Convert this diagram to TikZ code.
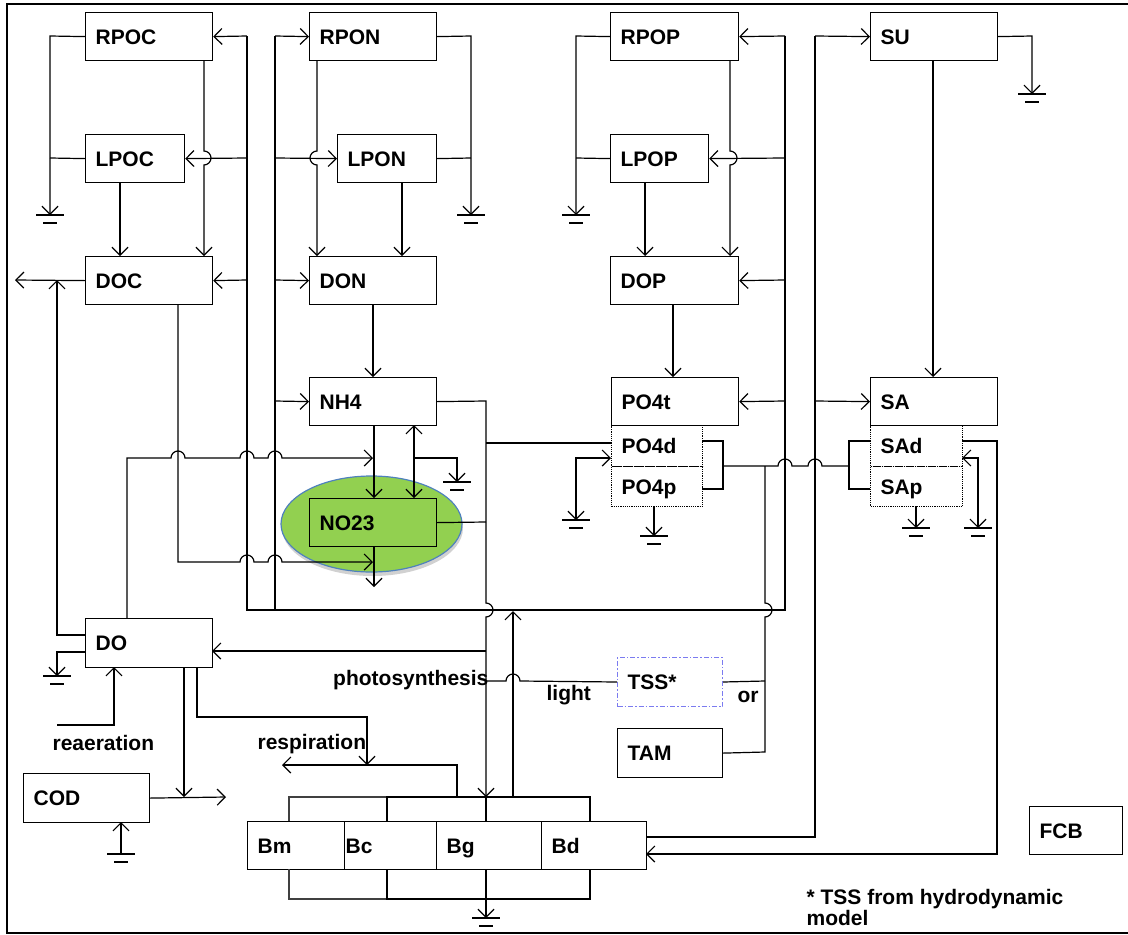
\documentclass[tikz,border=0pt]{standalone}
\usepackage{fontspec}
\setmainfont{Liberation Sans}
\usetikzlibrary{arrows.meta,shapes.geometric,shadows}
\definecolor{nogreen}{HTML}{92D050}
\definecolor{noblue}{HTML}{4F81BD}
\definecolor{tssblue}{HTML}{7B7BF0}
\newcommand\lblfont{\bfseries\fontsize{21}{22}\selectfont}
\begin{document}
\begin{tikzpicture}[x=1pt,y=-1pt, line width=1.2pt,
  >={Straight Barb[length=8pt,width=16pt]},
  box/.style={draw, line width=1.2pt, anchor=north west, inner xsep=10pt, inner ysep=0pt,
    minimum height=48pt, text width=#1, align=left, font=\lblfont, text height=15pt, text depth=0pt},
  dbox/.style={box=#1, densely dotted, line width=1pt, minimum height=41pt},
  lbl/.style={font=\lblfont, inner sep=0pt},
  ground/.pic={\draw[line width=1.2pt] (-14pt,0) -- (14pt,0); \draw[line width=1.2pt] (-7pt,-8pt) -- (7pt,-8pt);}
]
\useasboundingbox (0,0) rectangle (1128,935);
\draw[line width=2.7pt] (1128,4) -- (7,4) -- (7,933) -- (1128,933);

% NO23 ellipse
\node[ellipse, minimum width=181pt, minimum height=96pt, fill=nogreen, draw=noblue, line width=1.2pt,
  drop shadow={shadow xshift=1pt, shadow yshift=-4pt, opacity=0.18, fill=black}] (NO23e) at (371.5,524) {};

% boxes
\node[box=107pt] (RPOC) at (85,12) {RPOC};
\node[box=79pt] (LPOC) at (85,134) {LPOC};
\node[box=107pt] (DOC) at (85,256) {DOC};
\node[box=107pt] (RPON) at (309,12) {RPON};
\node[box=79pt] (LPON) at (337,134) {LPON};
\node[box=107pt] (DON) at (309,256) {DON};
\node[box=107pt] (NH4) at (309,377) {NH4};
\node[box=107pt] (NO23) at (309,498) {NO23};
\node[box=108pt] (RPOP) at (610,12) {RPOP};
\node[box=78pt] (LPOP) at (610,134) {LPOP};
\node[box=108pt] (DOP) at (610,256) {DOP};
\node[box=107pt] (PO4t) at (611,377) {PO4t};
\node[dbox=71pt] (PO4d) at (611,425) {PO4d};
\node[dbox=71pt, minimum height=40pt] (PO4p) at (611,466) {PO4p};
\node[box=107pt] (SU) at (870,12) {SU};
\node[box=107pt] (SA) at (870,377) {SA};
\node[dbox=72pt] (SAd) at (870,425) {SAd};
\node[dbox=72pt, minimum height=40pt] (SAp) at (870,466) {SAp};
\node[box=107pt, minimum height=49pt] (DO) at (85,618) {DO};
\node[box=106pt, minimum height=49pt] (COD) at (23,773) {COD};
\node[box=85pt, minimum height=49pt, draw=tssblue, line width=1pt, dash pattern=on 5pt off 2pt on 1.5pt off 2pt] (TSS) at (617,657) {TSS*};
\node[box=85pt, minimum height=49pt] (TAM) at (617,728) {TAM};
\node[box=77pt] (Bm) at (247,821) {Bm};
\node[box=90pt, inner xsep=1pt] (Bc) at (344,821) {Bc};
\node[box=85pt] (Bg) at (436,821) {Bg};
\node[box=85pt] (Bd) at (541,821) {Bd};
\node[box=73pt] (FCB) at (1029,806) {FCB};

% labels
\node[lbl, anchor=base east] (photo) at (489,685) {photosynthesis};
\node[lbl, anchor=base west] (light) at (546,700) {light};
\node[lbl, anchor=base west] (orl) at (737,702) {or};
\node[lbl, anchor=base west] (reaer) at (52,750) {reaeration};
\node[lbl, anchor=base west] (resp) at (257,749) {respiration};
\node[lbl, anchor=base west] (note1) at (806,904) {* TSS from hydrodynamic};
\node[lbl, anchor=base west] (note2) at (806,925) {model};

% grounds
\foreach \gx/\gy in {50/215, 471/215, 576/215, 1032/94, 457/482, 576/520, 654/536, 916/528, 978/528, 57/676, 121/854, 486/918}
  \pic at (\gx,\gy) {ground};

% distribution buses from algae
\draw (247,36) -- (247,610) -- (785,610) -- (785,36);
\draw (275,36) -- (275,610);
\draw[->] (247,36) -- (RPOC.east);
\draw[->] (247,158) -- (LPOC.east);
\draw[->] (247,280) -- (DOC.east);
\draw[->] (275,36) -- (RPON.west);
\draw[->] (275,158) -- (LPON.west);
\draw[->] (275,280) -- (DON.west);
\draw[->] (275,401) -- (NH4.west);
\draw[->] (785,36) -- (RPOP.east);
\draw[->] (785,158) -- (LPOP.east);
\draw[->] (785,280) -- (DOP.east);
\draw[->] (785,401) -- (PO4t.east);
\draw[->] (513,797) -- (513,611);

% carbon
\draw[->] (RPOC.west) -- (50,36) -- (50,215);
\draw (LPOC.west) -- (50,158);
\draw[->] (204,60) -- (204,151) arc[start angle=90,end angle=-90,radius=7pt] -- (204,256);
\draw[->] (120,182) -- (120,256);
\draw[->] (DOC.west) -- (15,280);
\draw[->] (85,635) -- (57,635) -- (57,280);
\draw[->] (178,304) -- (178,562) -- (240,562) arc[start angle=180,end angle=0,radius=7pt]
  -- (268,562) arc[start angle=180,end angle=0,radius=7pt] -- (373,562);
\draw[->] (127,618) -- (127,458) -- (171,458) arc[start angle=180,end angle=0,radius=7pt]
  -- (240,458) arc[start angle=180,end angle=0,radius=7pt]
  -- (268,458) arc[start angle=180,end angle=0,radius=7pt] -- (373,458);

% nitrogen
\draw[->] (RPON.east) -- (471,36) -- (471,215);
\draw (LPON.east) -- (471,158);
\draw[->] (317,60) -- (317,151) arc[start angle=90,end angle=270,radius=7pt] -- (317,256);
\draw[->] (402,182) -- (402,256);
\draw[->] (373,304) -- (373,377);
\draw[->] (374,425) -- (374,498);
\draw[->] (374,546) -- (374,587);
\draw[<->] (414,425) -- (414,498);
\draw[->] (414,458) -- (457,458) -- (457,482);

% nutrient uptake line
\draw[->] (NH4.east) -- (486,401) -- (486,603) arc[start angle=90,end angle=-90,radius=7pt] -- (486,797);
\draw (NO23.east) -- (486,522);
\draw (486,443) -- (611,443);
\draw[->] (486,651) -- (212,651);
\draw (486,681) -- (506,681) arc[start angle=180,end angle=0,radius=7pt] -- (TSS.west);

% phosphorus
\draw[->] (RPOP.west) -- (576,36) -- (576,215);
\draw (LPOP.west) -- (576,158);
\draw[->] (730,60) -- (730,151) arc[start angle=90,end angle=-90,radius=7pt] -- (730,256);
\draw[->] (645,182) -- (645,256);
\draw[->] (673,304) -- (673,377);
\draw[<->] (611,458) -- (576,458) -- (576,520);
\draw[->] (654,506) -- (654,536);
\draw (702,441) -- (723,441) -- (723,489) -- (702,489);
\draw (723,466) -- (778,466) arc[start angle=180,end angle=0,radius=7pt]
  -- (808,466) arc[start angle=180,end angle=0,radius=7pt] -- (849,466);
\draw (870,441) -- (849,441) -- (849,489) -- (870,489);
\draw (765,466) -- (765,603) arc[start angle=90,end angle=-90,radius=7pt] -- (765,752) -- (TAM.east);
\draw (TSS.east) -- (765,681);

% silica
\draw (646,837) -- (815,837) -- (815,36);
\draw[->] (815,36) -- (SU.west);
\draw[->] (815,401) -- (SA.west);
\draw[->] (SU.east) -- (1032,36) -- (1032,94);
\draw[->] (933,60) -- (933,377);
\draw[->] (962,441) -- (997,441) -- (997,854) -- (646,854);
\draw[<->] (962,458) -- (978,458) -- (978,528);
\draw[->] (916,506) -- (916,528);

% oxygen
\draw[->] (85,652) -- (57,652) -- (57,676);
\draw[->] (57,725) -- (114,725) -- (114,667);
\draw[->] (184,667) -- (184,797);
\draw[->] (COD.east) -- (226,797);
\draw[->] (121,854) -- (121,822);
\draw[->] (197,667) -- (197,717) -- (367,717) -- (367,765);
\draw[->] (457,797) -- (457,765) -- (282,765);

% algae brackets
\draw[black!75] (289,821) -- (289,797) -- (387,797);
\draw (387,821) -- (387,797) -- (590,797) -- (590,821);
\draw (486,797) -- (486,821);
\draw[black!75] (289,869) -- (289,899) -- (387,899);
\draw (387,869) -- (387,899) -- (590,899) -- (590,869);
\draw[->] (486,869) -- (486,918);
\end{tikzpicture}
\end{document}
